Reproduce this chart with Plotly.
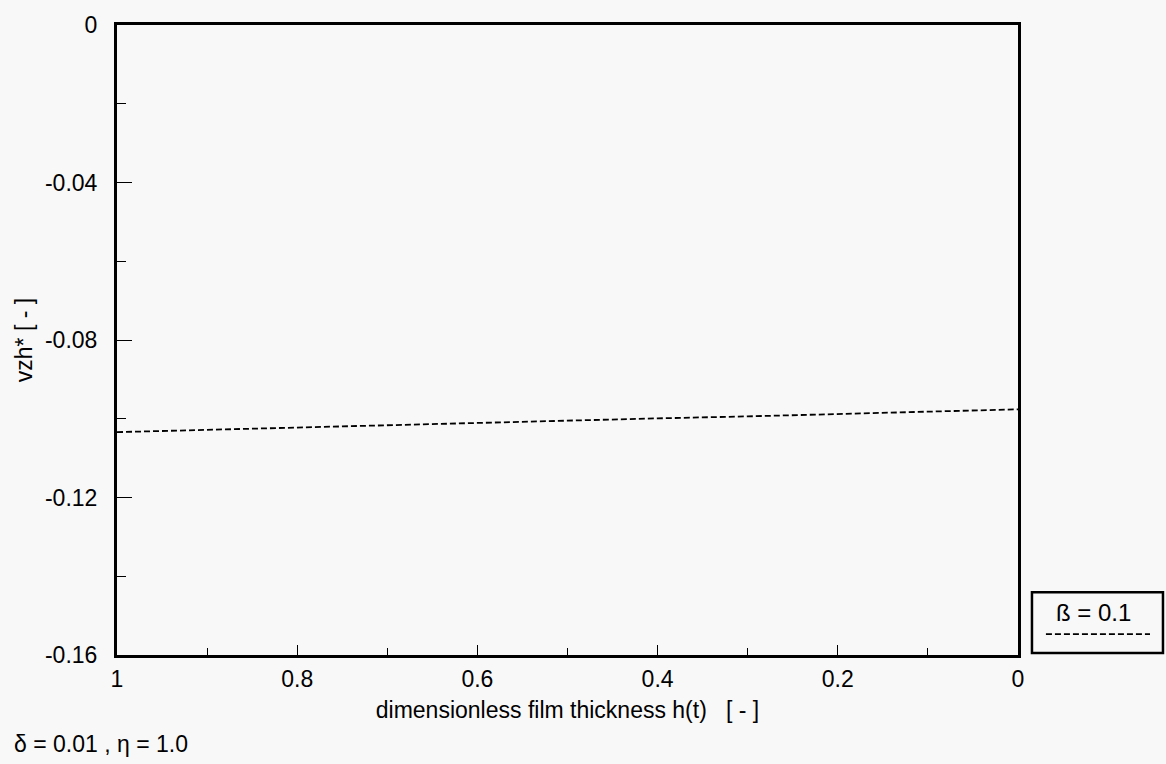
import plotly.graph_objects as go

# data
h_values = [1.0, 0.9, 0.8, 0.7, 0.6, 0.5, 0.4, 0.3, 0.2, 0.1, 0.0]
vzh_beta_01 = [-0.1034, -0.1028, -0.1022, -0.1017, -0.1011, -0.1005,
               -0.0999, -0.0994, -0.0988, -0.0982, -0.0976]
series_name = "ß = 0.1"

x_tick_vals = [1.0, 0.8, 0.6, 0.4, 0.2, 0.0]
x_tick_text = ["1", "0.8", "0.6", "0.4", "0.2", "0"]
y_tick_vals = [0.0, -0.04, -0.08, -0.12, -0.16]
y_tick_text = ["0", "-0.04", "-0.08", "-0.12", "-0.16"]

FONT = "Liberation Sans, Arial, Helvetica, sans-serif"
FS = 23

fig = go.Figure()
fig.add_trace(go.Scatter(
    x=h_values, y=vzh_beta_01, mode="lines", name=series_name,
    line=dict(color="black", width=1.8, dash="6px,3px"),
    showlegend=False, hoverinfo="skip",
))

axis_common = dict(
    showgrid=False, zeroline=False, showline=True, linecolor="black",
    linewidth=3, mirror=True, ticks="inside", tickcolor="black",
    tickfont=dict(family=FONT, size=FS, color="black"),
)

fig.update_xaxes(
    **axis_common,
    range=[1, 0], tickvals=x_tick_vals, ticktext=x_tick_text,
    ticklen=10, tickwidth=1.2, ticklabelstandoff=1,
    minor=dict(dtick=0.1, ticks="inside", ticklen=7, tickcolor="black", tickwidth=1),
    title=dict(text="dimensionless film thickness h(t)   [ - ]",
               font=dict(family=FONT, size=FS, color="black"), standoff=12),
)
fig.update_yaxes(
    **axis_common,
    range=[-0.16, 0], tickvals=y_tick_vals, ticktext=y_tick_text,
    ticklen=15, tickwidth=1.2, ticklabelstandoff=12,
    minor=dict(dtick=0.02, ticks="inside", ticklen=9, tickcolor="black", tickwidth=1),
    title=dict(text="vzh* [ - ]", font=dict(family=FONT, size=FS, color="black"),
               standoff=6),
)

# legend box drawn manually (text above, line sample below)
fig.add_shape(type="rect", xref="paper", yref="paper",
              x0=1.0155, x1=1.1609, y0=0.0032, y1=0.0995,
              line=dict(color="black", width=2.5), fillcolor="rgba(0,0,0,0)")
fig.add_shape(type="line", xref="paper", yref="paper",
              x0=1.031, x1=1.1465, y0=0.0332, y1=0.0332,
              line=dict(color="black", width=1.6, dash="6px,3px"))
fig.add_annotation(xref="paper", yref="paper", x=1.0833, y=0.0679,
                   xanchor="center", yanchor="middle",
                   text=series_name, showarrow=False,
                   font=dict(family=FONT, size=24, color="black"))

fig.add_annotation(xref="paper", yref="paper", x=-0.116, y=-0.142,
                   xanchor="left", yanchor="middle",
                   text="δ = 0.01 , η = 1.0", showarrow=False,
                   font=dict(family=FONT, size=FS, color="black"))

fig.update_layout(
    width=1166, height=764,
    margin=dict(l=117, r=148, t=22, b=109),
    paper_bgcolor="#f8f8f8", plot_bgcolor="#f8f8f8",
    font=dict(family=FONT, size=FS, color="black"),
)

fig.write_html("out.html", config={"displayModeBar": False},
               post_script="document.body.style.margin='0';document.body.style.background='#f8f8f8';")
